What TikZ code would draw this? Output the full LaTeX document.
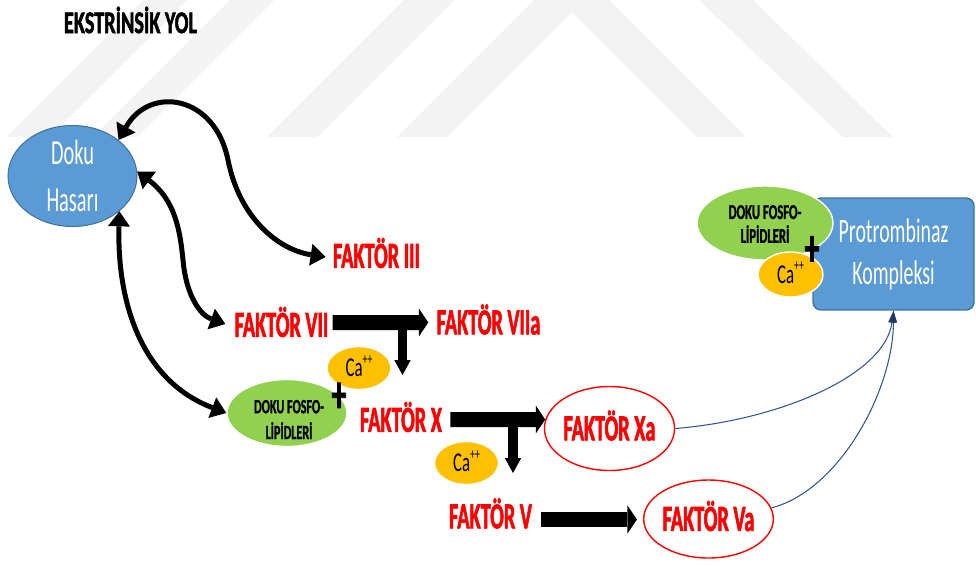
\documentclass[tikz,border=0pt]{standalone}
\usepackage{fontspec}
\setmainfont{Carlito}
\newfontfamily\fkfont[FakeStretch=0.55,FakeBold=1.5]{Carlito}
\newfontfamily\hdfont[FakeStretch=0.64,FakeBold=1.5]{Carlito}
\newfontfamily\rgfont[FakeStretch=0.58]{Carlito}
\newfontfamily\smfont[FakeStretch=0.6,FakeBold=1]{Carlito}
\newfontfamily\cafont[FakeStretch=0.62]{Carlito}
\usetikzlibrary{arrows.meta,shapes.geometric,calc}
\definecolor{blueF}{HTML}{5B9BD5}
\definecolor{blueB}{HTML}{41719C}
\definecolor{greenF}{HTML}{92D050}
\definecolor{yellowF}{HTML}{FFC000}
\definecolor{redT}{HTML}{FF0000}
\definecolor{lineB}{HTML}{2F5597}
\definecolor{navyT}{HTML}{1F3864}
\definecolor{wmark}{HTML}{F3F3F3}
\begin{document}
\begin{tikzpicture}[x=0.02cm,y=-0.02cm,
  fk/.style={text=redT,font=\fkfont\bfseries\fontsize{21}{24}\selectfont,inner sep=0pt,text height=13.6pt,text depth=0pt},
  redell/.style={ellipse,draw=redT,line width=0.8pt,fill=white,inner sep=0pt},
  gell/.style={ellipse,fill=greenF,draw=white,line width=0.8pt,inner sep=0pt},
  caell/.style={ellipse,fill=yellowF,draw=white,line width=0.8pt,inner sep=0pt,
    minimum width=1.28cm,minimum height=0.86cm,
    font=\cafont\fontsize{15.5}{16}\selectfont,text height=10pt,text depth=0pt},
  gtxt/.style={inner sep=0pt,align=center},
  plus/.style={inner sep=0pt,anchor=base,font=\fkfont\bfseries\fontsize{30}{30}\selectfont},
  blkh/.style={line width=0.3cm,-{Triangle[length=0.19cm,width=0.56cm,line width=0pt]}},
  blkv/.style={line width=0.19cm,-{Triangle[length=0.3cm,width=0.33cm,line width=0pt]}},
  crv/.style={line width=0.1cm,{Triangle[length=0.3cm,width=0.44cm,line width=0pt]}-{Triangle[length=0.3cm,width=0.44cm,line width=0pt]}},
  thin/.style={draw=lineB,line width=0.6pt,-{Triangle[length=0.24cm,width=0.15cm,line width=0pt,color=navyT]}}
]
\useasboundingbox (0,0) rectangle (976,565);
\fill[white] (0,0) rectangle (976,565);
% watermark
\fill[wmark] (6,137) -- (50,137) -- (187,0) -- (143,0) -- cycle;
\fill[wmark] (93,137) -- (137,137) -- (274,0) -- (230,0) -- cycle;
\fill[wmark] (267,137) -- (317,137) -- (454,0) -- (404,0) -- cycle;
\fill[wmark] (397,137) -- (447,137) -- (572,12) -- (697,137) -- (746,137) -- (609,0) -- (534,0) -- cycle;
\fill[wmark] (699,0) -- (753,0) -- (893,137) -- (843,137) -- cycle;

% title
\node[font=\hdfont\bfseries\fontsize{18}{20}\selectfont,inner sep=0pt,text height=11.5pt,text depth=0pt] (title) at (130.5,23) {EKSTRİNSİK YOL};

% Doku Hasari
\node[ellipse,fill=blueF,draw=blueB,line width=0.6pt,minimum width=2.58cm,minimum height=1.86cm,inner sep=0pt,
  text=white,align=center,font=\rgfont\fontsize{20}{26.6}\selectfont] (doku) at (72.5,176) {Doku\\Hasarı};

% factor labels
\node[fk] (f3) at (376.5,256) {FAKTÖR III};
\node[fk] (f7) at (281.5,325) {FAKTÖR VII};
\node[fk] (f7a) at (488.5,322.5) {FAKTÖR VIIa};
\node[fk] (fX) at (401,420) {FAKTÖR X};
\node[fk] (fV) at (490.5,516.5) {FAKTÖR V};
\node[redell,fk,minimum width=2.48cm,minimum height=1.68cm] (fXa) at (609.5,428.5) {FAKTÖR Xa};
\node[redell,fk,minimum width=2.46cm,minimum height=1.56cm] (fVa) at (708.5,519) {FAKTÖR Va};

% first complex
\node[gell,minimum width=2.4cm,minimum height=1.34cm] (g1) at (287,413) {};
\node[gtxt,font=\smfont\bfseries\fontsize{11.5}{14.7}\selectfont] (g1t) at (289,419.5) {DOKU FOSFO-\\LİPİDLERİ};
\node[caell] (ca1) at (359,368) {Ca\raisebox{7pt}{\fontsize{9}{9}\selectfont ++}};
\node[plus] (p1) at (339,412) {+};

% second Ca
\node[caell] (ca2) at (466.5,463) {Ca\raisebox{7pt}{\fontsize{9}{9}\selectfont ++}};

% Protrombinaz complex
\node[rectangle,rounded corners=0.16cm,fill=blueF,draw=blueB,line width=0.8pt,minimum width=3.22cm,minimum height=2.24cm,
  text=white,align=center,font=\rgfont\fontsize{19.5}{23.8}\selectfont] (prot) at (893.5,254) {Protrombinaz\\Kompleksi};
\node[gell,minimum width=2.72cm,minimum height=1.48cm] (g2) at (765,223) {};
\node[gtxt,font=\smfont\bfseries\fontsize{12}{13.6}\selectfont] (g2t) at (765,224) {DOKU FOSFO-\\LİPİDLERİ};
\node[caell,minimum width=1.3cm,minimum height=0.9cm] (ca3) at (790.5,274.5) {Ca\raisebox{7pt}{\fontsize{9}{9}\selectfont ++}};
\node[plus] (p2) at (812,265.5) {+};

% curved double arrows
\draw[crv] (doku.38) .. controls (150,85) and (215,95) .. (228,160)
  .. controls (240,220) and (280,250) .. ($(f3.west)+(-7,1)$);
\draw[crv] (doku.4) .. controls (175,200) and (180,230) .. (183,260)
  .. controls (186,295) and (200,315) .. ($(f7.west)+(-9,-1)$);
\draw[crv] (doku.-37) .. controls (117,300) and (140,380) .. (g1.west);

% block arrows
\draw[blkh] ($(f7.east)+(4,-2.5)$) -- ($(f7a.west)+(-8,0)$);
\coordinate (t1s) at (402.5,322.5);
\coordinate (t1e) at (402.5,375);
\draw[blkv] (t1s) -- (t1e);
\draw[blkh] ($(fX.east)+(8,-0.5)$) -- ($(fXa.west)+(1.5,-9)$);
\coordinate (t2s) at (513,419.5);
\coordinate (t2e) at (513,473);
\draw[blkv] (t2s) -- (t2e);
\draw[blkh] ($(fV.east)+(9,3)$) -- ($(fVa.west)+(-6,0.5)$);

% thin connectors to prothrombinase
\draw[thin] (fXa.east) .. controls (780,420) and (885,375) .. (prot.south);
\draw[thin] (fVa.10) .. controls (840,490) and (893,390) .. (prot.south);
\end{tikzpicture}
\end{document}
